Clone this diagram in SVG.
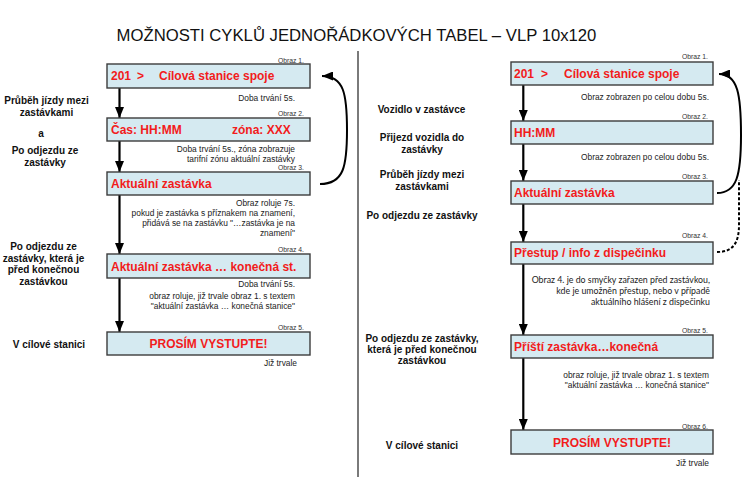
<svg xmlns="http://www.w3.org/2000/svg" width="750" height="500" viewBox="0 0 750 500">
<style>
text{font-family:"Liberation Sans",Arial,sans-serif}
.box{fill:#d5eaf1;stroke:#3c3c3c;stroke-width:1.4}
.bt{fill:#f21c1c;font-weight:bold;font-size:12px}
.ob{fill:#333;font-size:6.8px;text-anchor:end}
.d{fill:#222;font-size:8.4px;text-anchor:end}
.dc{fill:#222;font-size:8.8px;text-anchor:end;font-family:Lato,"Open Sans",sans-serif}
.lb{fill:#111;font-size:10px;font-weight:bold;text-anchor:middle}
.ln{stroke:#000;stroke-width:2.2;fill:none}
.cv{stroke:#000;stroke-width:2;fill:none}
.dash{stroke:#000;stroke-width:2;fill:none;stroke-dasharray:3 2}
</style>
<defs>
<marker id="ah" viewBox="0 0 10 10" refX="10" refY="5" markerWidth="11" markerHeight="9" markerUnits="userSpaceOnUse" orient="auto" preserveAspectRatio="none">
<path d="M0,0 L10,5 L0,10 z" fill="#000"/>
</marker>
</defs>
<rect width="750" height="500" fill="#fff"/>
<text x="356.5" y="40.5" font-size="16.7" text-anchor="middle" fill="#111">MOŽNOSTI CYKLŮ JEDNOŘÁDKOVÝCH TABEL – VLP 10x120</text>
<line x1="358" y1="51" x2="358" y2="477" stroke="#7a7a7a" stroke-width="2"/>

<g id="connectors">
<line class="ln" x1="119.5" y1="88" x2="119.5" y2="118" marker-end="url(#ah)"/>
<line class="ln" x1="119.5" y1="141" x2="119.5" y2="172" marker-end="url(#ah)"/>
<line class="ln" x1="119.5" y1="195" x2="119.5" y2="254" marker-end="url(#ah)"/>
<line class="ln" x1="119.5" y1="278" x2="119.5" y2="332" marker-end="url(#ah)"/>
<path class="cv" d="M320 184 C344 184 347 166 347 130 C347 94 344 76 322 76" marker-end="url(#ah)"/>
<line class="ln" x1="523.3" y1="85" x2="523.3" y2="121" marker-end="url(#ah)"/>
<line class="ln" x1="523.3" y1="144" x2="523.3" y2="181" marker-end="url(#ah)"/>
<line class="ln" x1="523.3" y1="204" x2="523.3" y2="242" marker-end="url(#ah)"/>
<line class="ln" x1="523.3" y1="264" x2="523.3" y2="335" marker-end="url(#ah)"/>
<line class="ln" x1="523.3" y1="358" x2="523.3" y2="430" marker-end="url(#ah)"/>
<path class="cv" d="M717 193 C737 193 741 175 741 135 C741 95 738 74 719 74" marker-end="url(#ah)"/>
<path class="dash" d="M717 252 C733 252 739 243 739 225 L739 180"/>
</g>

<g id="left-labels">
<text class="lb" x="46.5" y="104">Průběh jízdy mezi</text>
<text class="lb" x="46.5" y="116">zastávkami</text>
<text class="lb" x="41" y="137">a</text>
<text class="lb" x="45" y="154">Po odjezdu ze</text>
<text class="lb" x="45" y="166">zastávky</text>
<text class="lb" x="43.5" y="250">Po odjezdu ze</text>
<text class="lb" x="43.5" y="261.5">zastávky, která je</text>
<text class="lb" x="43.5" y="273">před konečnou</text>
<text class="lb" x="43.5" y="284.5">zastávkou</text>
<text class="lb" x="49" y="348">V cílové stanici</text>
</g>

<g id="L1">
<text class="ob" x="304" y="63">Obraz 1.</text>
<rect class="box" x="107" y="64" width="203" height="24"/>
<text class="bt" x="111" y="80">201</text>
<text class="bt" x="137" y="80">&gt;</text>
<text class="bt" x="159" y="80">Cílová stanice spoje</text>
<text class="d" x="295" y="101">Doba trvání 5s.</text>
</g>
<g id="L2">
<text class="ob" x="304" y="116">Obraz 2.</text>
<rect class="box" x="107" y="118" width="203" height="23"/>
<text class="bt" x="111" y="134">Čas: HH:MM</text>
<text class="bt" x="232" y="134">zóna: XXX</text>
<text class="d" x="295" y="151.5">Doba trvání 5s., zóna zobrazuje</text>
<text class="d" x="295" y="162">tarifní zónu aktuální zastávky</text>
</g>
<g id="L3">
<text class="ob" x="304" y="169.5">Obraz 3.</text>
<rect class="box" x="107" y="172" width="203" height="23"/>
<text class="bt" x="111" y="188">Aktuální zastávka</text>
<text class="d" x="295" y="206">Obraz roluje 7s.</text>
<text class="d" x="295" y="216">pokud je zastávka s příznakem na znamení,</text>
<text class="d" x="295" y="226">přidává se na zastávku "…zastávka je na</text>
<text class="d" x="295" y="236">znamení"</text>
</g>
<g id="L4">
<text class="ob" x="304" y="252">Obraz 4.</text>
<rect class="box" x="107" y="254" width="203" height="24"/>
<text class="bt" x="111" y="270.5">Aktuální zastávka … konečná st.</text>
<text class="d" x="295" y="286.5">Doba trvání 5s.</text>
<text class="d" x="295" y="299">obraz roluje, již trvale obraz 1. s textem</text>
<text class="d" x="295" y="309">"aktuální zastávka … konečná stanice"</text>
</g>
<g id="L5">
<text class="ob" x="304" y="330">Obraz 5.</text>
<rect class="box" x="107" y="332" width="203" height="23"/>
<text class="bt" x="208.5" y="347.5" text-anchor="middle">PROSÍM VYSTUPTE!</text>
<text class="d" x="297" y="366">Již trvale</text>
</g>

<g id="right-labels">
<text class="lb" x="421.5" y="112.5">Vozidlo v zastávce</text>
<text class="lb" x="422" y="141">Přijezd vozidla do</text>
<text class="lb" x="422" y="153">zastávky</text>
<text class="lb" x="422" y="178">Průběh jízdy mezi</text>
<text class="lb" x="422" y="189.5">zastávkami</text>
<text class="lb" x="422" y="218.5">Po odjezdu ze zastávky</text>
<text class="lb" x="422" y="342">Po odjezdu ze zastávky,</text>
<text class="lb" x="422" y="353">která je před konečnou</text>
<text class="lb" x="422" y="364">zastávkou</text>
<text class="lb" x="422" y="449">V cílové stanici</text>
</g>

<g id="R1">
<text class="ob" x="708" y="59">Obraz 1.</text>
<rect class="box" x="511" y="62" width="202" height="23"/>
<text class="bt" x="514" y="78">201</text>
<text class="bt" x="541" y="78">&gt;</text>
<text class="bt" x="564" y="78">Cílová stanice spoje</text>
<text class="d" x="709" y="100">Obraz zobrazen po celou dobu 5s.</text>
</g>
<g id="R2">
<text class="ob" x="708" y="119">Obraz 2.</text>
<rect class="box" x="511" y="121" width="202" height="23"/>
<text class="bt" x="514" y="137">HH:MM</text>
<text class="d" x="709" y="160">Obraz zobrazen po celou dobu 5s.</text>
</g>
<g id="R3">
<text class="ob" x="708" y="178.5">Obraz 3.</text>
<rect class="box" x="511" y="181" width="202" height="23"/>
<text class="bt" x="514" y="197">Aktuální zastávka</text>
</g>
<g id="R4">
<text class="ob" x="708" y="237.5">Obraz 4.</text>
<rect class="box" x="511" y="242" width="202" height="22"/>
<text class="bt" x="514" y="257">Přestup / info z dispečinku</text>
<text class="dc" x="710" y="283">Obraz 4. je do smyčky zařazen před zastávkou,</text>
<text class="dc" x="710" y="294">kde je umožněn přestup, nebo v případě</text>
<text class="dc" x="710" y="304.5">aktuálního hlášení z dispečinku</text>
</g>
<g id="R5">
<text class="ob" x="708" y="333">Obraz 5.</text>
<rect class="box" x="511" y="335" width="202" height="23"/>
<text class="bt" x="514" y="351">Příští zastávka…konečná</text>
<text class="d" x="709" y="378">obraz roluje, již trvale obraz 1. s textem</text>
<text class="d" x="709" y="388">"aktuální zastávka … konečná stanice"</text>
</g>
<g id="R6">
<text class="ob" x="708" y="429">Obraz 6.</text>
<rect class="box" x="511" y="430" width="202" height="24"/>
<text class="bt" x="612" y="446.5" text-anchor="middle">PROSÍM VYSTUPTE!</text>
<text class="d" x="709" y="466">Již trvale</text>
</g>
</svg>
